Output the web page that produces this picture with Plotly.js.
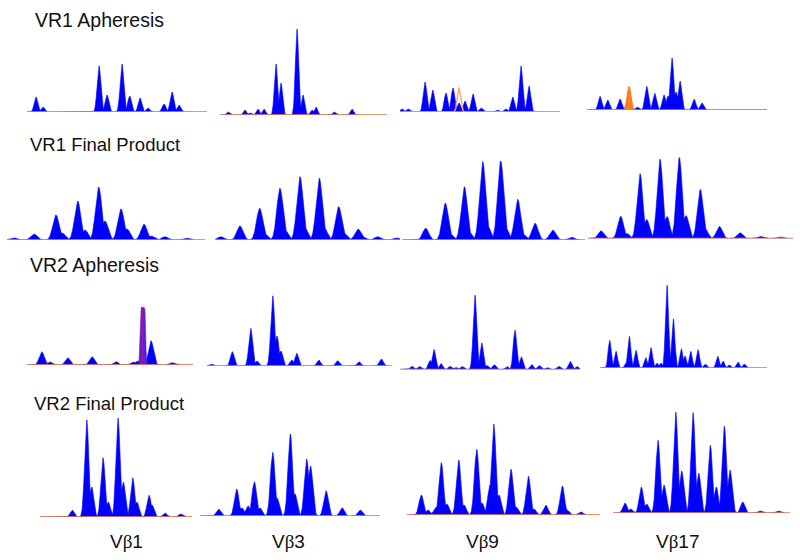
<!DOCTYPE html>
<html><head><meta charset="utf-8">
<script src="https://cdn.plot.ly/plotly-3.0.1.min.js"></script>
<style>html,body{margin:0;padding:0;background:#fff}#chart{width:800px;height:560px}</style>
</head><body><div id="chart"></div>
<script>
// ---------- DATA ----------
const rowTitles = ["VR1 Apheresis", "VR1 Final Product", "VR2 Apheresis", "VR2 Final Product"];
const columnLabels = ["Vβ1", "Vβ3", "Vβ9", "Vβ17"];

// peak positions (size units from start of each trace) and relative heights
const vr1AphVb1_pos = [9,16,72,80,95,102.7,113,121,137,145,152];
const vr1AphVb1_ht  = [15,5,46,17,48,16,14,4,8,20,7];
const vr1AphVb3_pos = [8,25,30,38,44,56,61,77,83,92,96,114,132];
const vr1AphVb3_ht  = [3,5,2,6,6,51,32,86,20,5,8,3,6];
const vr1AphVb9_pos = [2,8,25,32.7,46,53,59,65,73,81,97,106,112.7,121,129];
const vr1AphVb9_ht  = [3,3,30,22,19,24,9,11,18,4,2,3,15,46,26];
const vr1AphVb9_orangePos = [59];
const vr1AphVb9_orangeHt  = [24];
const vr1AphVb17_pos = [13,20.7,33,41,50,59.7,67.7,77,81,85,89,93,107,115];
const vr1AphVb17_ht  = [13.7,10,11,11,3,23.7,16.7,15,14,52,18,29,11,7];
const vr1AphVb17_orangePos = [42];
const vr1AphVb17_orangeHt  = [23];

const vr1FpVb1_pos = [6,27,49,55,70.7,78,91.7,98,114,120,137,144,158,179];
const vr1FpVb1_ht  = [2.3,6,25,7,39,10,53,19,31,11,15.7,4,3.3,2];
const vr1FpVb3_pos = [6,25,44.7,50,65,70,85,90,104.3,109.3,123.7,128.7,143,148,162.7,182];
const vr1FpVb3_ht  = [3.3,14,31.7,6,51.7,10,63.3,12,61.7,12,33.3,7,11,3,3.3,2];
const vr1FpVb9_pos = [23.7,43.3,48.3,62.3,67.3,80.7,85.7,98.7,103.7,115.7,120.7,133,150.7,169.7];
const vr1FpVb9_ht  = [11.7,36.7,6,53.3,8,78.3,14,79,12,40.7,6,16.7,10,2.7];
const vr1FpVb17_pos = [13,32.7,39,52,58.7,72,79,91.3,98,112.3,117,131.3,152,172,192];
const vr1FpVb17_ht  = [7.7,22.3,5,65,19,79.3,22,81,23,49,10,12.3,5.7,2,1.5];

const vr2AphVb1_pos = [14.7,23,40.7,65,89,106,111,124,144.7];
const vr2AphVb1_ht  = [13.3,3,7.3,8.3,3.3,3,4,24.3,2.3];
const vr2AphVb1_purplePos = [115.7];
const vr2AphVb1_purpleHt  = [57.7];
const vr2AphVb3_pos = [4,25.3,43.7,50,65.7,70,74,84.7,89.7,111.7,130.7,152,174.3];
const vr2AphVb3_ht  = [2,14.3,37.7,5,70.3,30,15,6,12.7,6,5.3,4.3,7];
const vr2AphVb9_pos = [11.7,19.3,30,34,41,49.7,55.7,62,75,81.7,87,94,107,115,121.3,131.7,139,147,158.7,170.3,177];
const vr2AphVb9_ht  = [3.3,3,9,20,6,3.3,2,3,74.3,26.7,4,5,3,39.3,12.7,5,4,2,3.3,8,3];
const vr2AphVb17_pos = [9.7,16,26,29.3,36,45.7,51,57,61,67,73.3,81.3,85,90.7,98,105,117.7,123,129,138,144];
const vr2AphVb17_ht  = [27.7,16.7,4,31.7,17.7,10.3,20.3,5,5,82.7,49.3,19.3,12,16.7,18.3,4,11.7,7,3,6,4];

const vr2FpVb1_pos = [32.3,46.7,51.7,63,68.3,78,83.3,92.7,97,109,112,125,140.7];
const vr2FpVb1_ht  = [6.7,97.3,30,59.3,15,99,35,39.3,15,21.7,12,4,3];
const vr2FpVb3_pos = [18.7,36.7,42,48,54.3,60,72.7,77,90.3,95,106.7,110.5,126,142,160.3];
const vr2FpVb3_ht  = [6.7,27,8,10,34.3,8,63.7,18,82,22,57,50,25.3,8.3,6];
const vr2FpVb9_pos = [14.3,21,29,34.3,40,51.7,57,69.7,75,83,86.7,92,104,109,121.3,127,138.7,155.3,160,174];
const vr2FpVb9_ht  = [20,5,8,52.3,11,55,10,65.7,12,30,91,20,45.7,8,39,6,10,29,5,3];
const vr2FpVb17_pos = [12,17.7,28.3,33.7,45,51,62.7,68.7,80,85.7,97.3,103.3,111.3,117,129.7,147,165.3];
const vr2FpVb17_ht  = [10,4,26,9,72.7,28,101,42,100.3,40,67.7,26,87,43,11,2,2];

// ---------- PANELS ----------
const panels = [
  {pos: vr1AphVb1_pos, ht: vr1AphVb1_ht},
  {pos: vr1AphVb3_pos, ht: vr1AphVb3_ht},
  {pos: vr1AphVb9_pos, ht: vr1AphVb9_ht, oPos: vr1AphVb9_orangePos, oHt: vr1AphVb9_orangeHt, oFill: false},
  {pos: vr1AphVb17_pos, ht: vr1AphVb17_ht, oPos: vr1AphVb17_orangePos, oHt: vr1AphVb17_orangeHt, oFill: true},
  {pos: vr1FpVb1_pos, ht: vr1FpVb1_ht},
  {pos: vr1FpVb3_pos, ht: vr1FpVb3_ht},
  {pos: vr1FpVb9_pos, ht: vr1FpVb9_ht},
  {pos: vr1FpVb17_pos, ht: vr1FpVb17_ht},
  {pos: vr2AphVb1_pos, ht: vr2AphVb1_ht, pPos: vr2AphVb1_purplePos, pHt: vr2AphVb1_purpleHt},
  {pos: vr2AphVb3_pos, ht: vr2AphVb3_ht},
  {pos: vr2AphVb9_pos, ht: vr2AphVb9_ht},
  {pos: vr2AphVb17_pos, ht: vr2AphVb17_ht},
  {pos: vr2FpVb1_pos, ht: vr2FpVb1_ht},
  {pos: vr2FpVb3_pos, ht: vr2FpVb3_ht},
  {pos: vr2FpVb9_pos, ht: vr2FpVb9_ht},
  {pos: vr2FpVb17_pos, ht: vr2FpVb17_ht}
];

// layout: [x0, x1, baseline] in px, and peak width per panel
const frames = [
  [27,207,112],[220,387,115],[400,560,112],[587,767,110],
  [7,205,240],[215,400,240],[402,585,240],[588,793,238.5],
  [27,193,365],[207,392,366],[400,580,369.5],[600,767,368],
  [40,192,517],[200,380,516],[407,600,515],[613,790,513]
];
const widths = [2.6,2.3,2.5,2.5, 4.4,4.4,4.3,4.0, 3.5,2.7,2.5,2.2, 2.9,3.2,3.2,3.0];
const W = 800, H = 560, PANEL_H = 108;
const BLUE = '#0000ff', ORANGE = 'rgb(250,140,60)', PURPLE = 'rgb(90,30,225)';

function curve(pos, ht, span, w, expo) {
  const xs = [], ys = [];
  const step = 0.2;
  const n = Math.round(span / step);
  for (let k = 0; k <= n; k++) {
    const x = k * step;
    let y = 0;
    for (let i = 0; i < pos.length; i++) {
      const d = Math.abs(x - pos[i]) / w;
      if (d < 8) {
        const v = ht[i] * Math.exp(-Math.pow(d, expo));
        if (v > y) y = v;
      }
    }
    xs.push(+x.toFixed(2)); ys.push(+y.toFixed(3));
  }
  return {xs, ys};
}

const traces = [];
const layout = {
  width: W, height: H,
  margin: {l:0, r:0, t:0, b:0},
  paper_bgcolor: '#fff', plot_bgcolor: 'rgba(0,0,0,0)',
  showlegend: false,
  annotations: []
};

panels.forEach((p, i) => {
  const [x0, x1, base] = frames[i];
  const span = x1 - x0;
  const n = i + 1;
  const xa = 'xaxis' + (n === 1 ? '' : n), ya = 'yaxis' + (n === 1 ? '' : n);
  const xr = 'x' + (n === 1 ? '' : n), yr = 'y' + (n === 1 ? '' : n);
  layout[xa] = {domain: [x0 / W, x1 / W], range: [0, span], visible: false, fixedrange: true, anchor: yr};
  layout[ya] = {domain: [1 - base / H, 1 - (base - PANEL_H) / H], range: [0, PANEL_H], visible: false, fixedrange: true, anchor: xr};

  const c = curve(p.pos, p.ht, span, widths[i], 2);
  traces.push({x: c.xs, y: c.ys, xaxis: xr, yaxis: yr, type: 'scatter', mode: 'lines',
    fill: 'tozeroy', fillcolor: BLUE, line: {color: BLUE, width: 0.6}, hoverinfo: 'skip'});

  if (p.pPos) {
    const pc = curve(p.pPos, p.pHt, span, 3.2, 8);
    traces.push({x: pc.xs, y: pc.ys, xaxis: xr, yaxis: yr, type: 'scatter', mode: 'lines',
      fill: 'tozeroy', fillcolor: PURPLE, line: {color: PURPLE, width: 0.6}, hoverinfo: 'skip'});
    traces.push({x: [p.pPos[0], p.pPos[0]], y: [0, p.pHt[0]], xaxis: xr, yaxis: yr, type: 'scatter', mode: 'lines',
      line: {color: 'rgba(215,30,90,0.8)', width: 0.8}, hoverinfo: 'skip'});
  }

  const oc = curve(p.oPos || [], p.oHt || [], span, 2.4, 2);
  const light = p.oPos && !p.oFill;
  traces.push({x: oc.xs, y: oc.ys, xaxis: xr, yaxis: yr, type: 'scatter', mode: 'lines',
    fill: p.oFill ? 'tozeroy' : 'none', fillcolor: 'rgb(250,125,30)',
    line: {color: light ? 'rgb(248,170,120)' : (p.oFill ? 'rgb(250,125,30)' : ORANGE), width: 1.4}, hoverinfo: 'skip'});
  if (light) {
    traces.push({x: [0, span], y: [0, 0], xaxis: xr, yaxis: yr, type: 'scatter', mode: 'lines',
      line: {color: ORANGE, width: 1.4}, hoverinfo: 'skip'});
  }
});

const titlePos = [[33, 20, 19.5], [28, 144, 18.5], [28, 265, 19.5], [32, 403, 18.5]];
rowTitles.forEach((t, r) => {
  layout.annotations.push({text: t, xref: 'paper', yref: 'paper', x: titlePos[r][0] / W, y: 1 - titlePos[r][1] / H,
    xanchor: 'left', yanchor: 'middle', showarrow: false,
    font: {family: 'Arial, Liberation Sans, sans-serif', size: titlePos[r][2], color: '#111'}});
});
const labelX = [126, 288, 482, 678];
columnLabels.forEach((t, c) => {
  const txt = t.replace('β', '<span style="font-family:Liberation Serif">β</span>');
  layout.annotations.push({text: txt, xref: 'paper', yref: 'paper', x: labelX[c] / W, y: 1 - 541 / H,
    xanchor: 'center', yanchor: 'middle', showarrow: false,
    font: {family: 'Arial, Liberation Sans, sans-serif', size: 19, color: '#111'}});
});

Plotly.newPlot('chart', traces, layout, {staticPlot: true, displayModeBar: false});
</script>
</body></html>
